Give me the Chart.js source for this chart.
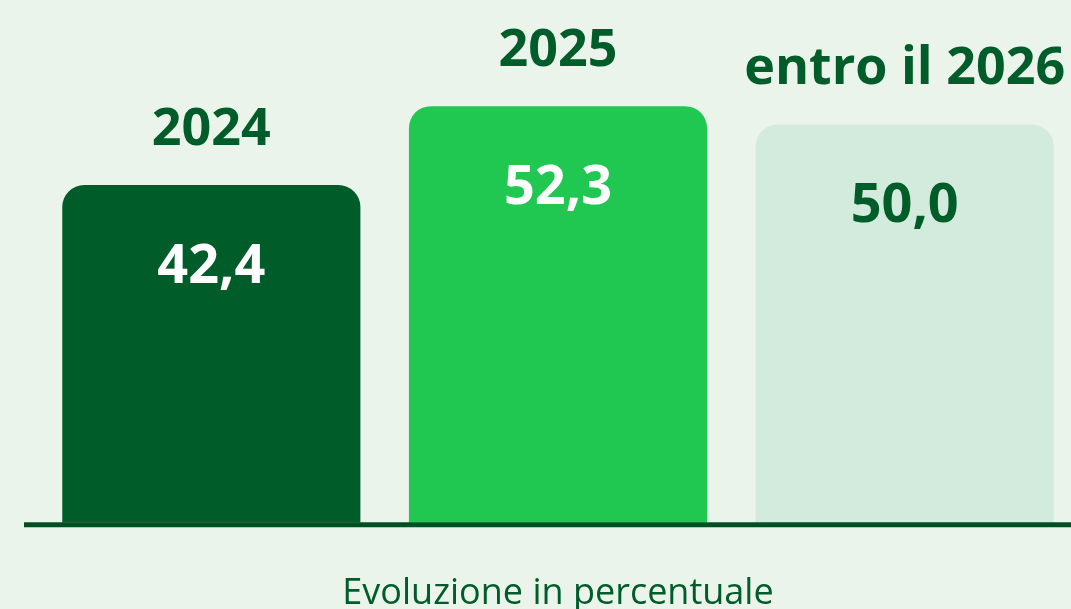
<!DOCTYPE html>
<html>
<head>
<meta charset="utf-8">
<script src="https://cdn.jsdelivr.net/npm/chart.js@4"></script>
<style>
  html, body { margin: 0; padding: 0; background: #eaf4eb; overflow: hidden; }
  #wrap { width: 1078px; height: 609px; }
</style>
</head>
<body>
<div id="wrap"><canvas id="chart" width="1078" height="609"></canvas></div>
<script>
const categories = ['2024', '2025', 'entro il 2026'];
const values = [42.4, 52.3, 50.0];
const barColors = ['#005c29', '#20c852', '#d3ebdc'];
const valueColors = ['#ffffff', '#ffffff', '#005c29'];
const axisTitle = 'Evoluzione in percentuale';

const darkGreen = '#005c29';

// year labels above bars, values inside near the top
const barLabels = {
    id: 'barLabels',
    afterDatasetsDraw(chart) {
        const ctx = chart.ctx;
        const meta = chart.getDatasetMeta(0);
        ctx.save();
        ctx.textAlign = 'center';
        ctx.textBaseline = 'alphabetic';
        meta.data.forEach((bar, i) => {
            ctx.fillStyle = darkGreen;
            ctx.font = 'bold 52px "Open Sans"';
            ctx.fillText(categories[i], bar.x, bar.y - 40);
            ctx.fillStyle = valueColors[i];
            ctx.font = 'bold 54px "Open Sans"';
            const txt = values[i].toLocaleString('it-IT', { minimumFractionDigits: 1, maximumFractionDigits: 1 });
            ctx.fillText(txt, bar.x, bar.y + 98);
        });
        ctx.restore();
    }
};

// baseline runs a bit past the left of the plot area
const baseLine = {
    id: 'baseLine',
    afterDatasetsDraw(chart) {
        const ctx = chart.ctx;
        const y = chart.scales.y.getPixelForValue(0) + 2;
        ctx.save();
        ctx.strokeStyle = '#004f22';
        ctx.lineWidth = 5;
        ctx.beginPath();
        ctx.moveTo(24, y);
        ctx.lineTo(chart.width, y);
        ctx.stroke();
        ctx.restore();
    }
};

new Chart(document.getElementById('chart').getContext('2d'), {
    type: 'bar',
    data: {
        labels: categories,
        datasets: [{
            data: values,
            backgroundColor: barColors,
            borderRadius: { topLeft: 22, topRight: 22, bottomLeft: 0, bottomRight: 0 },
            borderSkipped: 'start',
            categoryPercentage: 1,
            barPercentage: 0.86
        }]
    },
    options: {
        responsive: false,
        animation: false,
        layout: { padding: { left: 38, right: 0, top: 5, bottom: 0 } },
        plugins: {
            legend: { display: false },
            tooltip: { enabled: false }
        },
        scales: {
            x: {
                grid: { display: false },
                border: { display: false },
                ticks: { display: false },
                title: {
                    display: true,
                    text: axisTitle,
                    color: darkGreen,
                    font: { family: 'Open Sans', size: 36, weight: 'normal' },
                    padding: { top: 41, bottom: -6 }
                }
            },
            y: {
                display: false,
                min: 0,
                max: 65
            }
        }
    },
    plugins: [barLabels, baseLine]
});
</script>
</body>
</html>
